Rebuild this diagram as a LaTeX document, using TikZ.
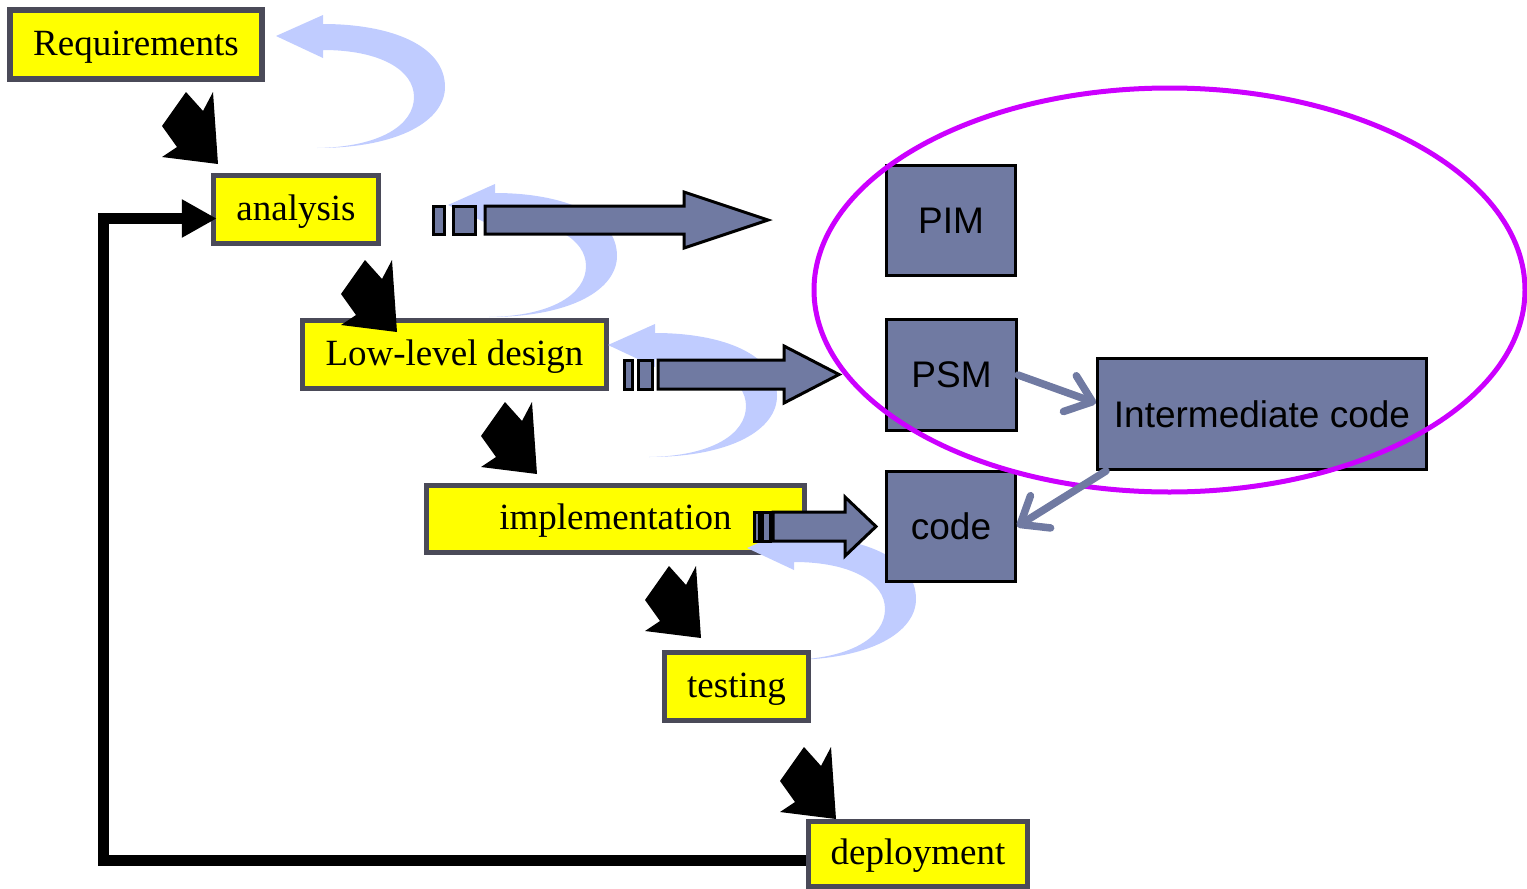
\documentclass[tikz,border=0pt]{standalone}
\usepackage{fontspec}
\setmainfont{Liberation Serif}
\newfontfamily\boxsans{Liberation Sans}
\usetikzlibrary{arrows.meta}

\definecolor{stageyellow}{HTML}{FFFF00}
\definecolor{stageborder}{HTML}{4A4A58}
\definecolor{modelblue}{HTML}{707AA2}
\definecolor{loopblue}{HTML}{C0CCFF}
\definecolor{scopeviolet}{HTML}{CC00FF}

\tikzset{
  stage/.style={draw=stageborder, fill=stageyellow, line width=5.5pt,
    inner sep=0pt, text height=28pt, text depth=7pt,
    font=\fontsize{37}{44}\selectfont},
  model/.style={draw=black, fill=modelblue, line width=3pt,
    inner sep=0pt, font=\boxsans\fontsize{37}{44}\selectfont},
  blockarrow/.style={draw=black, fill=modelblue, line width=3pt, line join=miter},
  thinlink/.style={draw=modelblue, line width=7.5pt, line cap=round,
    -{Straight Barb[length=24pt,width=38pt,line cap=round,round]}},
  feedback/.style={draw=black, line width=11pt, line join=miter,
    -{Triangle[length=35pt,width=36pt]}},
  % fat black step arrow, tip at the pic origin
  steparrow/.pic={
    \fill[black] (0,0) -- (-5,-72) -- (-15,-53) -- (-32,-72) -- (-56,-38)
      -- (-41,-17) -- (-56,-7) -- cycle;
  },
  % light blue return loop, arrow tip at the pic origin
  returnloop/.pic={
    \fill[loopblue] (41,112) .. controls (124,112) and (169,84) .. (169,51)
      .. controls (169,9) and (114,-12) .. (47,-12) -- (47,-21) -- (0,0)
      -- (47,22) -- (47,14) .. controls (104,14) and (138,34) .. (138,61)
      .. controls (138,89) and (104,111) .. (41,112) -- cycle;
  }
}

\begin{document}
\begin{tikzpicture}[x=1pt, y=-1pt]
\useasboundingbox (0,0) rectangle (1527,889);

% process stages
\node[stage, minimum width=252pt, minimum height=69pt] (req) at (136,44.5) {Requirements};
\node[stage, minimum width=165pt, minimum height=68pt] (ana) at (296,209.5) {analysis};
\node[stage, minimum width=304pt, minimum height=68pt] (lld) at (454.5,354.5) {Low-level design};
\node[stage, minimum width=378pt, minimum height=67pt] (imp) at (615.5,519) {implementation};

% iteration loops
\pic at (276,36) {returnloop};
\pic at (448,205) {returnloop};
\pic at (608,345) {returnloop};
\pic at (747,548) {returnloop};

\node[stage, minimum width=144pt, minimum height=68pt] (tst) at (736.5,686.5) {testing};
\node[stage, minimum width=219pt, minimum height=65pt] (dep) at (918,854) {deployment};

% steps down the waterfall
\pic at (218,164) {steparrow};
\pic at (397,332) {steparrow};
\pic at (537,474) {steparrow};
\pic at (701,638) {steparrow};
\pic at (836,819) {steparrow};

% feedback from deployment back to analysis
\draw[feedback] ([yshift=-6pt]dep.west) -- ++(-702,0)
  |- ([xshift=6pt,yshift=-9pt]ana.west);

% striped block arrows towards the models
\filldraw[blockarrow] (433,206) rectangle (444,234);
\filldraw[blockarrow] (453,206) rectangle (475,234);
\filldraw[blockarrow] (485,206) -- (684,206) -- (684,192) -- (768,220)
  -- (684,248) -- (684,234) -- (485,234) -- cycle;

\filldraw[blockarrow] (624,360) rectangle (632,389);
\filldraw[blockarrow] (638,360) rectangle (652,389);
\filldraw[blockarrow] (658,360) -- (784,360) -- (784,346) -- (839,374.5)
  -- (784,403) -- (784,389) -- (658,389) -- cycle;

\filldraw[blockarrow] (754,512) rectangle (759,541);
\filldraw[blockarrow] (762,512) rectangle (770,541);
\filldraw[blockarrow] (773,512) -- (845,512) -- (845,497) -- (876,526.5)
  -- (845,556) -- (845,541) -- (773,541) -- cycle;

% models
\node[model, minimum width=129pt, minimum height=110pt] (pim) at (951,220.5) {PIM};
\node[model, minimum width=130pt, minimum height=111pt] (psm) at (951.5,375) {PSM};
\node[model, minimum width=329pt, minimum height=111pt] (int) at (1262,414) {Intermediate code};
\node[model, minimum width=129pt, minimum height=110pt] (code) at (951,526.5) {code};

% model scope
\draw[scopeviolet, line width=5pt] (1169.5,290) ellipse [x radius=355.5pt, y radius=202pt];

% transformations
\draw[thinlink] (psm.east) -- ([yshift=11pt]int.west);
\draw[thinlink] ([xshift=10pt]int.south west) -- (code.east);
\end{tikzpicture}
\end{document}
